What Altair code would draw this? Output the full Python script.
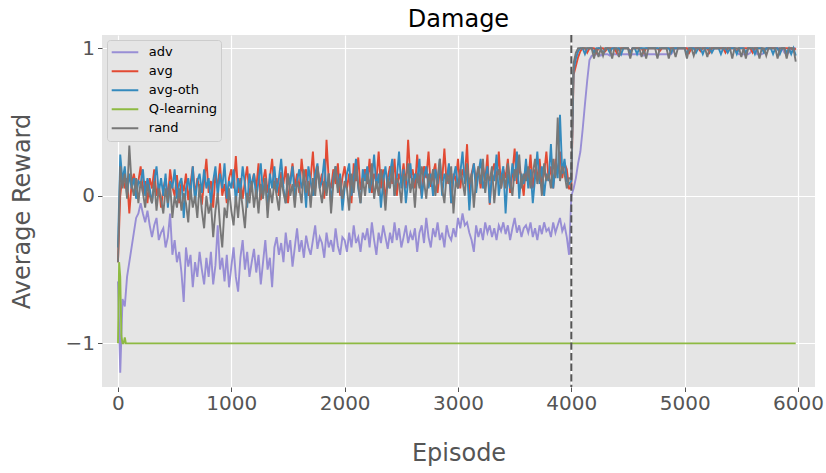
import altair as alt
import pandas as pd

FONT = "DejaVu Sans"

# Episodes sampled every 20 steps, 0 .. 5980
episodes = list(range(0, 6000, 20))
x_ticks = [0, 1000, 2000, 3000, 4000, 5000, 6000]
y_ticks = [-1, 0, 1]
switch_episode = 4000

# adv: average reward per evaluation window
adv = [
    -0.58, -1.2, -0.7, -0.75, -0.55, -0.45, -0.35, -0.25, -0.15, -0.12,
    -0.05, -0.12, -0.18, -0.1, -0.2, -0.28, -0.2, -0.15, -0.3, -0.25,
    -0.22, -0.35, -0.28, -0.12, -0.4, -0.3, -0.45, -0.38, -0.52, -0.72,
    -0.35, -0.48, -0.4, -0.62, -0.45, -0.55, -0.38, -0.5, -0.6, -0.42,
    -0.55, -0.38, -0.6, -0.47, -0.2, -0.5, -0.42, -0.58, -0.4, -0.62,
    -0.48, -0.35, -0.55, -0.65, -0.42, -0.3, -0.5, -0.38, -0.55, -0.45,
    -0.36, -0.52, -0.4, -0.6, -0.45, -0.3, -0.5, -0.42, -0.62, -0.35,
    -0.28, -0.4, -0.32, -0.45, -0.25, -0.38, -0.3, -0.48, -0.35, -0.22,
    -0.38, -0.3, -0.42, -0.27, -0.35, -0.4, -0.3, -0.2, -0.36, -0.28,
    -0.32, -0.42, -0.25, -0.35, -0.3, -0.38, -0.22, -0.34, -0.4, -0.28,
    -0.3, -0.38, -0.25, -0.35, -0.2, -0.32, -0.28, -0.38, -0.25, -0.3,
    -0.22, -0.35, -0.18, -0.3, -0.4, -0.25, -0.32, -0.2, -0.28, -0.36,
    -0.25, -0.32, -0.18, -0.3, -0.22, -0.35, -0.28, -0.2, -0.32, -0.25,
    -0.3, -0.22, -0.38, -0.25, -0.2, -0.32, -0.15, -0.28, -0.35, -0.22,
    -0.28, -0.18, -0.3, -0.25, -0.35, -0.2, -0.27, -0.3, -0.22, -0.28,
    -0.15, -0.22, -0.12, -0.2, -0.18, -0.25, -0.3, -0.38, -0.2, -0.28,
    -0.22, -0.3, -0.18, -0.25, -0.2, -0.28, -0.22, -0.3, -0.2, -0.24,
    -0.18, -0.26, -0.2, -0.3, -0.22, -0.15, -0.25, -0.2, -0.28, -0.22,
    -0.2, -0.25, -0.18, -0.28, -0.22, -0.3, -0.2, -0.26, -0.18, -0.24,
    -0.22, -0.28, -0.18, -0.25, -0.2, -0.15, -0.24, -0.2, -0.28, -0.4,
    0.0, 0.05, 0.12, 0.22, 0.3, 0.45, 0.62, 0.78, 0.92, 0.95,
    0.95, 0.96, 0.96, 0.95, 0.96, 0.96, 0.96, 0.95, 0.96, 0.96,
    0.96, 0.95, 0.96, 0.96, 0.96, 0.96, 0.95, 0.96, 0.96, 0.96,
    0.96, 0.96, 0.95, 0.96, 0.96, 0.96, 0.96, 0.96, 0.95, 0.96,
    0.96, 0.96, 0.96, 0.96, 0.96, 0.98, 1.0, 1.0, 1.0, 1.0,
    1.0, 1.0, 1.0, 1.0, 1.0, 1.0, 1.0, 1.0, 1.0, 1.0,
    1.0, 1.0, 1.0, 1.0, 1.0, 1.0, 1.0, 1.0, 1.0, 1.0,
    1.0, 1.0, 1.0, 0.97, 0.96, 0.96, 0.96, 0.96, 0.96, 0.97,
    1.0, 1.0, 0.96, 0.96, 0.96, 0.97, 1.0, 1.0, 1.0, 1.0,
    1.0, 1.0, 1.0, 1.0, 0.97, 0.96, 0.97, 1.0, 1.0, 1.0,
]

avg = [
    -0.45, 0.0, 0.15, 0.05, 0.12, -0.12, 0.08, 0.15, 0.05, 0.1,
    0.2, 0.02, 0.1, -0.05, 0.12, 0.05, 0.18, 0.0, 0.08, -0.08,
    0.05, 0.12, -0.02, 0.18, 0.06, 0.0, 0.14, -0.05, 0.1, 0.03,
    0.15, -0.03, 0.08, 0.2, 0.0, 0.12, 0.05, -0.06, 0.1, 0.25,
    0.02, 0.1, -0.08, 0.15, 0.05, 0.22, 0.0, 0.08, -0.05, 0.12,
    0.18, 0.05, 0.27, 0.02, 0.12, -0.02, 0.1, 0.2, 0.0, 0.08,
    0.15, 0.05, 0.22, -0.03, 0.1, 0.18, 0.02, 0.12, 0.25, 0.05,
    0.12, 0.0, 0.16, 0.08, 0.2, -0.05, 0.1, 0.22, 0.06, 0.15,
    0.02, 0.25, 0.1, 0.18, 0.0, 0.12, 0.3, 0.05, 0.2, 0.08,
    0.15, -0.02, 0.38, 0.1, 0.05, 0.18, 0.08, 0.22, 0.0, 0.12,
    0.2, 0.05, 0.15, -0.05, 0.22, 0.1, 0.26, 0.04, 0.12, 0.18,
    0.08, 0.25, 0.02, 0.15, 0.1, 0.3, 0.05, 0.18, -0.04, 0.12,
    0.2, 0.08, 0.25, 0.0, 0.15, 0.1, 0.22, 0.05, 0.38, 0.12,
    0.18, 0.05, 0.28, 0.1, 0.0, 0.2, 0.12, 0.3, 0.06, 0.15,
    0.22, 0.02, 0.18, 0.1, 0.32, 0.08, 0.2, -0.05, 0.15, 0.1,
    0.25, 0.05, 0.18, 0.12, 0.35, 0.0, 0.15, 0.22, 0.08, 0.18,
    0.05, 0.2, 0.1, 0.28, -0.06, 0.15, 0.22, 0.1, 0.3, 0.05,
    0.18, 0.12, 0.25, 0.02, 0.15, 0.32, 0.08, 0.2, 0.12, 0.0,
    0.22, 0.1, 0.28, 0.05, 0.18, 0.12, 0.25, 0.08, 0.15, 0.3,
    0.1, 0.2, 0.05, 0.25, 0.15, 0.3, 0.12, 0.22, 0.18, 0.05,
    0.05, 0.82, 0.88, 0.94, 0.98, 1.0, 1.0, 0.97, 1.0, 1.0,
    1.0, 0.97, 1.0, 1.0, 1.0, 0.98, 1.0, 1.0, 1.0, 1.0,
    0.97, 1.0, 1.0, 1.0, 1.0, 1.0, 0.98, 1.0, 1.0, 1.0,
    1.0, 1.0, 0.97, 1.0, 1.0, 1.0, 1.0, 1.0, 1.0, 0.98,
    1.0, 1.0, 1.0, 1.0, 1.0, 1.0, 1.0, 1.0, 1.0, 1.0,
    1.0, 1.0, 0.97, 1.0, 1.0, 1.0, 1.0, 0.98, 1.0, 1.0,
    1.0, 0.97, 1.0, 1.0, 1.0, 1.0, 1.0, 1.0, 0.97, 1.0,
    1.0, 1.0, 1.0, 0.98, 1.0, 1.0, 1.0, 1.0, 1.0, 1.0,
    0.97, 1.0, 1.0, 1.0, 1.0, 0.98, 1.0, 1.0, 1.0, 1.0,
    1.0, 1.0, 0.97, 1.0, 1.0, 1.0, 1.0, 1.0, 0.98, 1.0,
]

avg_oth = [
    -0.35, 0.28, 0.1, 0.2, 0.0, 0.15, 0.05, 0.12, -0.02, 0.1,
    0.08, 0.18, 0.0, 0.12, 0.05, -0.05, 0.1, 0.2, 0.02, 0.12,
    0.0, 0.15, -0.08, 0.1, 0.05, 0.18, -0.02, 0.08, 0.12, -0.15,
    0.05, 0.12, 0.0, 0.2, -0.05, 0.1, 0.15, 0.02, 0.18, 0.05,
    0.12, -0.05, 0.1, 0.2, 0.0, 0.15, 0.05, 0.22, -0.02, 0.1,
    0.05, 0.18, -0.05, 0.12, 0.02, 0.2, 0.08, -0.08, 0.15, 0.05,
    0.15, -0.02, 0.1, 0.22, 0.0, 0.12, -0.1, 0.15, 0.05, 0.2,
    0.02, 0.12, 0.25, 0.05, -0.05, 0.15, 0.08, 0.2, -0.02, 0.1,
    0.18, 0.05, 0.12, -0.08, 0.2, 0.1, 0.0, 0.15, 0.22, 0.05,
    0.1, 0.25, 0.02, 0.15, -0.05, 0.12, 0.2, 0.05, 0.15, -0.1,
    0.05, 0.15, 0.22, 0.0, 0.12, 0.25, 0.05, -0.05, 0.18, 0.1,
    0.2, 0.02, 0.12, 0.28, 0.05, 0.15, -0.08, 0.1, 0.2, 0.05,
    0.15, 0.25, 0.0, 0.12, 0.3, 0.05, 0.18, -0.05, 0.1, 0.22,
    0.05, 0.15, 0.1, 0.25, -0.02, 0.12, 0.2, 0.05, 0.15, 0.0,
    0.18, 0.08, 0.25, 0.0, 0.15, 0.1, 0.22, -0.05, 0.12, 0.2,
    0.05, 0.15, 0.3, 0.08, 0.18, -0.1, 0.12, 0.22, 0.02, 0.15,
    0.25, 0.05, 0.12, 0.2, -0.05, 0.15, 0.1, 0.28, 0.0, 0.12,
    0.2, -0.12, 0.15, 0.05, 0.22, 0.1, 0.3, -0.02, 0.15, 0.08,
    0.25, 0.05, 0.18, -0.05, 0.12, 0.3, 0.08, 0.2, 0.0, 0.15,
    0.1, 0.35, 0.05, 0.2, 0.12, 0.55, 0.15, 0.25, 0.1, 0.08,
    0.1, 0.85, 0.93, 0.98, 1.0, 1.0, 0.96, 1.0, 1.0, 1.0,
    0.97, 1.0, 1.0, 1.0, 0.96, 1.0, 1.0, 0.97, 1.0, 1.0,
    1.0, 1.0, 0.96, 1.0, 1.0, 1.0, 0.97, 1.0, 1.0, 0.96,
    1.0, 1.0, 1.0, 1.0, 1.0, 1.0, 1.0, 1.0, 1.0, 1.0,
    1.0, 1.0, 1.0, 1.0, 0.97, 1.0, 1.0, 1.0, 1.0, 1.0,
    1.0, 0.96, 1.0, 1.0, 1.0, 0.97, 1.0, 1.0, 0.96, 1.0,
    1.0, 1.0, 0.97, 1.0, 1.0, 1.0, 0.96, 1.0, 1.0, 0.97,
    1.0, 1.0, 1.0, 0.96, 1.0, 1.0, 1.0, 0.97, 1.0, 1.0,
    1.0, 0.96, 1.0, 1.0, 1.0, 0.97, 1.0, 1.0, 1.0, 0.96,
    1.0, 1.0, 0.96, 1.0, 1.0, 0.97, 1.0, 0.96, 1.0, 0.95,
]

rand = [
    -0.45, 0.2, 0.05, 0.15, -0.02, 0.34, 0.08, 0.0, 0.12, -0.05,
    0.1, 0.02, -0.08, 0.08, 0.0, -0.05, 0.1, -0.1, 0.05, -0.02,
    -0.12, 0.05, -0.05, 0.08, -0.15, 0.0, -0.08, 0.05, -0.1, 0.02,
    -0.05, -0.18, 0.05, -0.08, 0.0, -0.15, 0.08, -0.1, -0.22, 0.0,
    -0.12, -0.05, -0.28, -0.1, 0.02, -0.2, -0.35, -0.08, -0.15, 0.05,
    -0.1, -0.2, 0.0, -0.15, 0.05, -0.08, -0.22, 0.02, -0.05, 0.1,
    -0.08, 0.05, -0.12, 0.08, -0.02, 0.12, -0.15, 0.05, -0.05, 0.1,
    0.0, -0.1, 0.12, 0.02, -0.05, 0.15, 0.0, 0.08, -0.08, 0.1,
    0.05, -0.05, 0.18, 0.02, 0.1, -0.08, 0.12, 0.0, 0.2, 0.05,
    -0.05, 0.1, 0.0, 0.15, -0.12, 0.08, 0.2, 0.02, 0.12, -0.02,
    0.1, 0.05, -0.1, 0.15, 0.02, 0.2, 0.08, -0.05, 0.12, 0.0,
    0.15, 0.05, 0.22, -0.02, 0.1, 0.0, 0.18, 0.08, -0.1, 0.12,
    0.05, 0.2, 0.0, 0.12, 0.08, -0.05, 0.15, 0.1, 0.22, 0.02,
    0.12, -0.08, 0.15, 0.05, 0.2, 0.1, -0.02, 0.15, 0.08, 0.18,
    0.0, 0.12, 0.25, 0.05, -0.05, 0.15, 0.08, 0.2, -0.12, 0.1,
    0.05, 0.18, 0.1, 0.0, 0.22, 0.08, 0.15, -0.08, 0.12, 0.2,
    0.08, 0.25, 0.02, 0.15, 0.1, 0.2, -0.05, 0.12, 0.18, 0.05,
    0.15, 0.05, 0.22, 0.1, 0.0, 0.18, 0.12, 0.28, 0.05, 0.15,
    0.1, 0.2, 0.05, 0.15, 0.25, 0.08, 0.18, 0.0, 0.22, 0.1,
    0.15, 0.05, 0.25, 0.12, 0.53, 0.1, 0.2, 0.15, 0.05, 0.12,
    0.12, 0.9, 0.97, 1.0, 1.0, 1.0, 1.0, 1.0, 1.0, 1.0,
    0.93, 1.0, 0.94, 1.0, 0.95, 1.0, 1.0, 1.0, 0.93, 1.0,
    1.0, 0.94, 1.0, 1.0, 1.0, 1.0, 0.93, 1.0, 1.0, 1.0,
    1.0, 0.94, 1.0, 0.93, 1.0, 1.0, 1.0, 1.0, 0.93, 1.0,
    1.0, 1.0, 1.0, 0.93, 1.0, 1.0, 0.94, 1.0, 1.0, 1.0,
    1.0, 0.93, 1.0, 1.0, 0.95, 1.0, 1.0, 1.0, 1.0, 1.0,
    0.94, 1.0, 1.0, 1.0, 1.0, 1.0, 1.0, 1.0, 1.0, 1.0,
    1.0, 0.93, 1.0, 1.0, 1.0, 0.94, 1.0, 0.93, 1.0, 1.0,
    1.0, 1.0, 1.0, 0.93, 1.0, 1.0, 0.95, 1.0, 1.0, 1.0,
    1.0, 0.93, 1.0, 1.0, 1.0, 0.93, 1.0, 1.0, 1.0, 0.91,
]

# Q-learning collapses to -1 almost immediately
q_episodes = [0, 10, 20, 30, 40, 50, 60, 70, 5980]
q_values = [-1.0, -0.45, -0.55, -0.95, -1.0, -1.0, -0.96, -1.0, -1.0]

series_names = ["adv", "avg", "avg-oth", "Q-learning", "rand"]
series_colors = ["#988ED5", "#E24A33", "#348ABD", "#8EBA42", "#777777"]

rows = []
for name, vals in [("adv", adv), ("avg", avg), ("avg-oth", avg_oth), ("rand", rand)]:
    rows += [{"Episode": e, "Reward": v, "series": name} for e, v in zip(episodes, vals)]
rows += [{"Episode": e, "Reward": v, "series": "Q-learning"} for e, v in zip(q_episodes, q_values)]
df = pd.DataFrame(rows)

x_enc = alt.X(
    "Episode:Q",
    scale=alt.Scale(domain=[-141, 6150], nice=False, zero=False),
    axis=alt.Axis(
        values=x_ticks, format="d", title="Episode",
        titleY=73.5, titleBaseline="alphabetic",
        labelPadding=2,
    ),
)
y_enc = alt.Y(
    "Reward:Q",
    scale=alt.Scale(domain=[-1.296, 1.09], nice=False, zero=False),
    axis=alt.Axis(
        values=y_ticks, format="d", title="Average Reward",
        titleX=-72.5, titleY=176, titleAngle=270,
        titleBaseline="alphabetic", titleAlign="center",
        labelPadding=3,
    ),
)
color_enc = alt.Color(
    "series:N",
    scale=alt.Scale(domain=series_names, range=series_colors),
    legend=alt.Legend(
        title=None, orient="none", legendX=5, legendY=5,
        symbolType="stroke", symbolSize=707, symbolStrokeWidth=2,
        symbolOffset=0.5, labelOffset=9.3, clipHeight=18.6,
        labelFont=FONT, labelFontSize=13, labelColor="#000000",
        fillColor="#E5E5E5", strokeColor="#CCCCCC", cornerRadius=3,
        padding=3, rowPadding=0,
    ),
)

base = alt.Chart(df)
layers = [
    base.transform_filter(alt.datum.series == name)
    .mark_line(strokeWidth=1.9, clip=True)
    .encode(x=x_enc, y=y_enc, color=color_enc)
    for name in series_names
]

switch_rule = (
    alt.Chart(pd.DataFrame({"Episode": [switch_episode]}))
    .mark_rule(color="#555555", strokeDash=[7.4, 3.2], strokeWidth=2)
    .encode(x=alt.X("Episode:Q"))
)

chart = (
    alt.layer(*layers, switch_rule)
    .properties(
        width=713,
        height=352,
        title=alt.TitleParams(
            "Damage", font=FONT, fontSize=24, fontWeight="normal",
            color="#000000", anchor="middle", baseline="alphabetic",
            offset=8.5, dy=25,
        ),
        padding={"left": 102, "top": 35, "right": 11, "bottom": 86},
        autosize=alt.AutoSizeParams(type="none"),
    )
    .configure_view(fill="#E5E5E5", strokeWidth=0)
    .configure_axis(
        domain=False,
        grid=True, gridColor="#FFFFFF", gridWidth=1.2,
        ticks=True, tickColor="#555555", tickSize=4.5, tickWidth=1,
        labelFont=FONT, labelFontSize=20, labelColor="#555555",
        titleFont=FONT, titleFontSize=24, titleColor="#555555",
        titleFontWeight="normal",
    )
)

chart.save("out.html", embed_options={"renderer": "svg", "actions": False})
